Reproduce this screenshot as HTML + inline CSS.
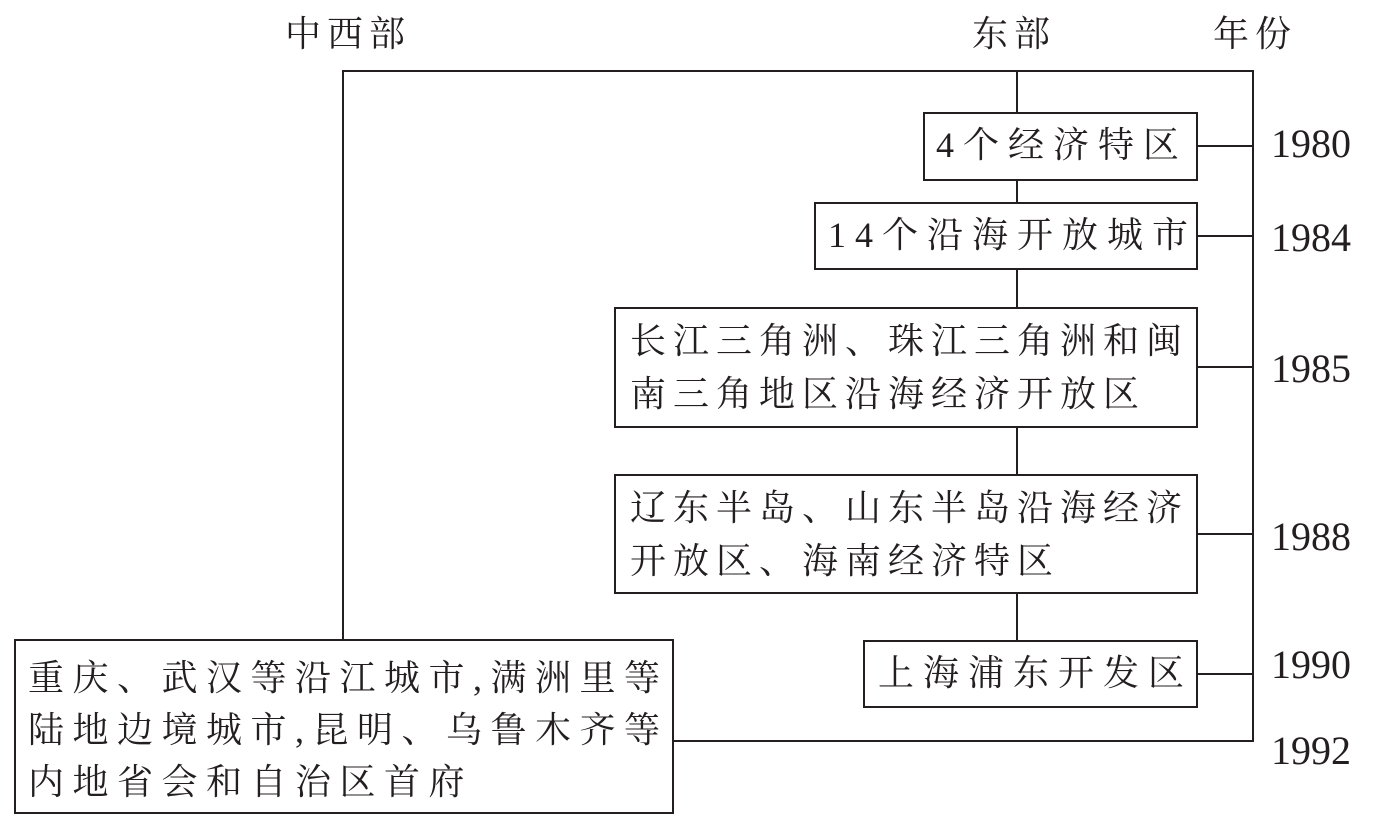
<!DOCTYPE html>
<html><head><meta charset="utf-8"><style>
body{margin:0;width:1383px;height:818px;background:#fff;position:relative;overflow:hidden;font-family:"Liberation Serif","Noto Serif CJK SC",serif;color:#231f20}
.l{position:absolute;background:#231f20}
.b{position:absolute;border:2px solid #231f20;box-sizing:border-box;background:#fff}
.t{position:absolute;font-size:36px;letter-spacing:9px;white-space:nowrap;line-height:53px}
.y{position:absolute;font-size:40px;line-height:40px}
</style></head><body>
<div class="t" style="left:285px;top:8px;letter-spacing:6px">中西部</div>
<div class="t" style="left:972px;top:8px;letter-spacing:6px">东部</div>
<div class="t" style="left:1213px;top:8px;letter-spacing:6px">年份</div>
<div class="l" style="left:342px;top:70px;width:912px;height:2px"></div>
<div class="l" style="left:342px;top:70px;width:2px;height:572px"></div>
<div class="l" style="left:1252px;top:70px;width:2px;height:672px"></div>
<div class="l" style="left:1016px;top:70px;width:2px;height:573px"></div>
<div class="l" style="left:1196px;top:145px;width:57px;height:2px"></div>
<div class="l" style="left:1196px;top:235px;width:57px;height:2px"></div>
<div class="l" style="left:1196px;top:366px;width:57px;height:2px"></div>
<div class="l" style="left:1196px;top:533px;width:57px;height:2px"></div>
<div class="l" style="left:1196px;top:673px;width:57px;height:2px"></div>
<div class="l" style="left:672px;top:740px;width:581px;height:2px"></div>
<div class="b" style="left:923px;top:112px;width:275px;height:69px"></div>
<div class="t" style="left:936px;top:119px">4个经济特区</div>
<div class="b" style="left:814px;top:202px;width:384px;height:68px"></div>
<div class="t" style="left:828px;top:209px">14个沿海开放城市</div>
<div class="b" style="left:614px;top:307px;width:584px;height:121px"></div>
<div class="t" style="left:630px;top:315px;letter-spacing:7px">长江三角洲、珠江三角洲和闽<br>南三角地区沿海经济开放区</div>
<div class="b" style="left:614px;top:474px;width:584px;height:120px"></div>
<div class="t" style="left:630px;top:482px;letter-spacing:7px">辽东半岛、山东半岛沿海经济<br>开放区、海南经济特区</div>
<div class="b" style="left:863px;top:640px;width:335px;height:68px"></div>
<div class="t" style="left:878px;top:647px">上海浦东开发区</div>
<div class="b" style="left:14px;top:639px;width:660px;height:175px"></div>
<div class="t" style="left:28px;top:652px;line-height:52px;letter-spacing:8.5px">重庆、武汉等沿江城市,满洲里等<br>陆地边境城市,昆明、乌鲁木齐等<br>内地省会和自治区首府</div>
<div class="y" style="left:1271px;top:124px">1980</div>
<div class="y" style="left:1271px;top:218px">1984</div>
<div class="y" style="left:1271px;top:349px">1985</div>
<div class="y" style="left:1271px;top:517px">1988</div>
<div class="y" style="left:1271px;top:645px">1990</div>
<div class="y" style="left:1271px;top:731px">1992</div>
</body></html>
